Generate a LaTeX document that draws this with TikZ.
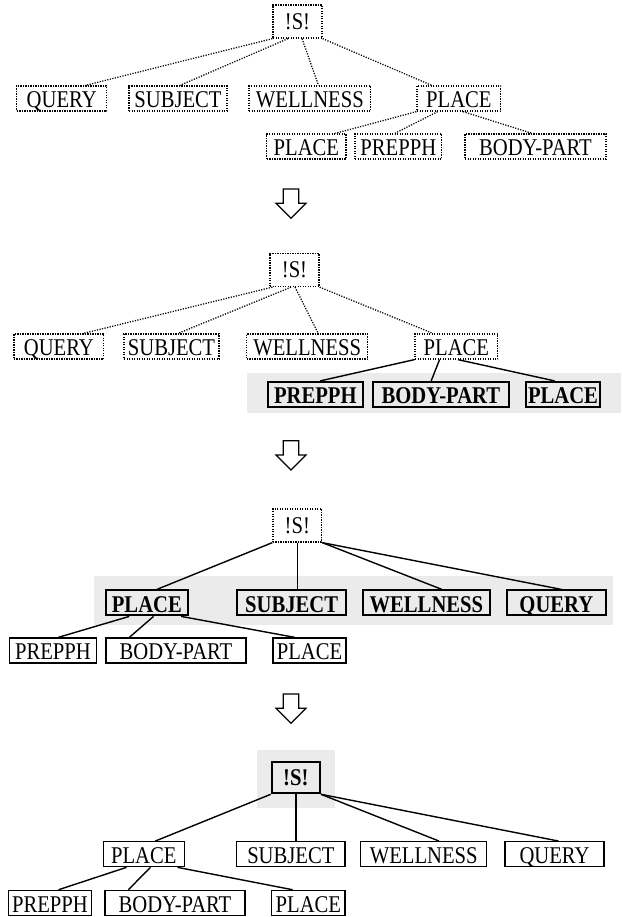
\documentclass[tikz,border=0pt]{standalone}
\usepackage{fontspec}
\setmainfont{Liberation Serif}[FakeStretch=0.86]
\usetikzlibrary{calc}
\definecolor{bandgray}{gray}{0.92}

% box: style, name, left x, right x, centre y, text
\newcommand\bx[6]{\node[#1, minimum width={(#4-#3)*1pt}] (#2) at ({(#3+#4)/2},#5) {#6};}
% connector from a point on the bottom side of one box to a point on the top side of another
\newcommand\edg[5]{\draw[#1] ($(#2.south west)!#3!(#2.south east)$) -- ($(#4.north west)!#5!(#4.north east)$);}
% hollow down arrow between stages: centre x, top y
\newcommand\stagearrow[2]{\draw[stage] (#1-7.8,#2) -- (#1+7.8,#2) -- (#1+7.8,#2+14.3) -- (#1+15,#2+14.3)
  -- (#1,#2+29.3) -- (#1-15,#2+14.3) -- (#1-7.8,#2+14.3) -- cycle;}

\tikzset{
  lbl/.style={inner sep=0pt, minimum height=25pt, text height=21.9pt, text depth=3.1pt,
    font=\fontsize{24}{28}\selectfont},
  dotbox/.style={lbl, draw, line width=1.3pt, dash pattern=on 1.3pt off 1.2pt},
  plainbox/.style={lbl, draw, line width=1.3pt, fill=white},
  boldbox/.style={lbl, draw, line width=2pt, fill=bandgray, font=\fontsize{24}{28}\selectfont\bfseries},
  rootdot/.style={dotbox, minimum height=33pt, text height=24.4pt, text depth=8.6pt},
  rootbold/.style={boldbox, minimum height=31.6pt, text height=23.7pt, text depth=7.9pt},
  dotedge/.style={line width=1.25pt, dash pattern=on 1.2pt off 1.4pt},
  link/.style={line width=1.4pt},
  stage/.style={draw, line width=1.2pt, fill=white, line join=miter},
}

\begin{document}
\begin{tikzpicture}[x=1pt, y=-1pt]
\useasboundingbox (0,0) rectangle (621,917);

% ---------- stage 1 ----------
\node[rootdot, minimum width=49pt] (s1) at (297.5,21.5) {!S!};
\bx{dotbox}{q1}{16.7}{106.7}{98.5}{QUERY}
\bx{dotbox}{sb1}{129}{227}{98.5}{SUBJECT}
\bx{dotbox}{w1}{249}{370.7}{98.5}{WELLNESS}
\bx{dotbox}{p1}{417}{500.7}{98.5}{PLACE}
\bx{dotbox}{pl1}{266.7}{346}{146.5}{PLACE}
\bx{dotbox}{pr1}{355}{441.7}{146.5}{PREPPH}
\bx{dotbox}{bp1}{465}{606}{146.5}{BODY-PART}
\edg{dotedge}{s1}{0}{q1}{0.76}
\edg{dotedge}{s1}{0.31}{sb1}{0.52}
\edg{dotedge}{s1}{0.59}{w1}{0.57}
\edg{dotedge}{s1}{1}{p1}{0.18}
\edg{dotedge}{p1}{0}{pl1}{0.86}
\edg{dotedge}{p1}{0.25}{pr1}{0.46}
\edg{dotedge}{p1}{0.55}{bp1}{0.475}

\stagearrow{291}{189}

% ---------- stage 2 ----------
\fill[bandgray] (246.7,372.7) rectangle (621,412.7);
\node[rootdot, minimum width=49pt] (s2) at (294.5,270) {!S!};
\bx{dotbox}{q2}{13.9}{103.8}{346.5}{QUERY}
\bx{dotbox}{sb2}{124}{219}{346.5}{SUBJECT}
\bx{dotbox}{w2}{246.7}{367.7}{346.5}{WELLNESS}
\bx{dotbox}{p2}{415}{497.7}{346.5}{PLACE}
\bx{boldbox}{pr2}{268}{362.7}{394.4}{PREPPH}
\bx{boldbox}{bp2}{372.7}{509}{394.4}{BODY-PART}
\bx{boldbox}{pl2}{526}{600}{394.4}{PLACE}
\edg{dotedge}{s2}{0.06}{q2}{0.77}
\edg{dotedge}{s2}{0.43}{sb2}{0.57}
\edg{dotedge}{s2}{0.51}{w2}{0.59}
\edg{dotedge}{s2}{1}{p2}{0.22}
\edg{link}{p2}{0}{pr2}{0.55}
\edg{link}{p2}{0.30}{bp2}{0.43}
\edg{link}{p2}{0.52}{pl2}{0.39}

\stagearrow{291}{440.7}

% ---------- stage 3 ----------
\fill[bandgray] (94,576) rectangle (612.7,625);
\node[rootdot, minimum width=48.7pt] (s3) at (297.3,525.5) {!S!};
\bx{boldbox}{p3}{106}{187.7}{602.9}{PLACE}
\bx{boldbox}{sb3}{237.3}{346}{602.9}{SUBJECT}
\bx{boldbox}{w3}{362.7}{490}{602.9}{WELLNESS}
\bx{boldbox}{q3}{506.7}{606}{602.9}{QUERY}
\bx{plainbox}{pr3}{9.3}{96.7}{650.5}{PREPPH}
\bx{plainbox}{bp3}{106}{246}{650.5}{BODY-PART}
\bx{plainbox}{pl3}{273}{346}{650.5}{PLACE}
\edg{link}{s3}{0}{p3}{0.62}
\coordinate (v3) at ($(s3.south west)!0.5!(s3.south east)$);
\draw[link] (v3) -- (v3 |- sb3.north);
\edg{link}{s3}{1}{w3}{0.62}
\edg{link}{s3}{1}{q3}{0.55}
\edg{link}{p3}{0.29}{pr3}{0.56}
\edg{link}{p3}{0.58}{bp3}{0.17}
\edg{link}{p3}{0.91}{pl3}{0.3}

\stagearrow{291}{694}

% ---------- stage 4 ----------
\fill[bandgray] (256.7,750) rectangle (335,808.3);
\node[rootbold, minimum width=48.3pt] (s4) at (295.85,777.5) {!S!};
\bx{plainbox}{p4}{103.3}{184.3}{854.2}{PLACE}
\bx{plainbox}{sb4}{236.7}{345}{854.2}{SUBJECT}
\bx{plainbox}{w4}{360.7}{486.7}{854.2}{WELLNESS}
\bx{plainbox}{q4}{505}{604}{854.2}{QUERY}
\bx{plainbox}{pr4}{8.3}{91.7}{902.9}{PREPPH}
\bx{plainbox}{bp4}{105}{245}{902.9}{BODY-PART}
\bx{plainbox}{pl4}{271.7}{345}{902.9}{PLACE}
\edg{link}{s4}{0}{p4}{0.64}
\coordinate (v4) at ($(s4.south west)!0.5!(s4.south east)$);
\draw[link] (v4) -- (v4 |- sb4.north);
\edg{link}{s4}{1}{w4}{0.62}
\edg{link}{s4}{1}{q4}{0.54}
\edg{link}{p4}{0.29}{pr4}{0.6}
\edg{link}{p4}{0.58}{bp4}{0.17}
\edg{link}{p4}{0.91}{pl4}{0.29}
\end{tikzpicture}
\end{document}
